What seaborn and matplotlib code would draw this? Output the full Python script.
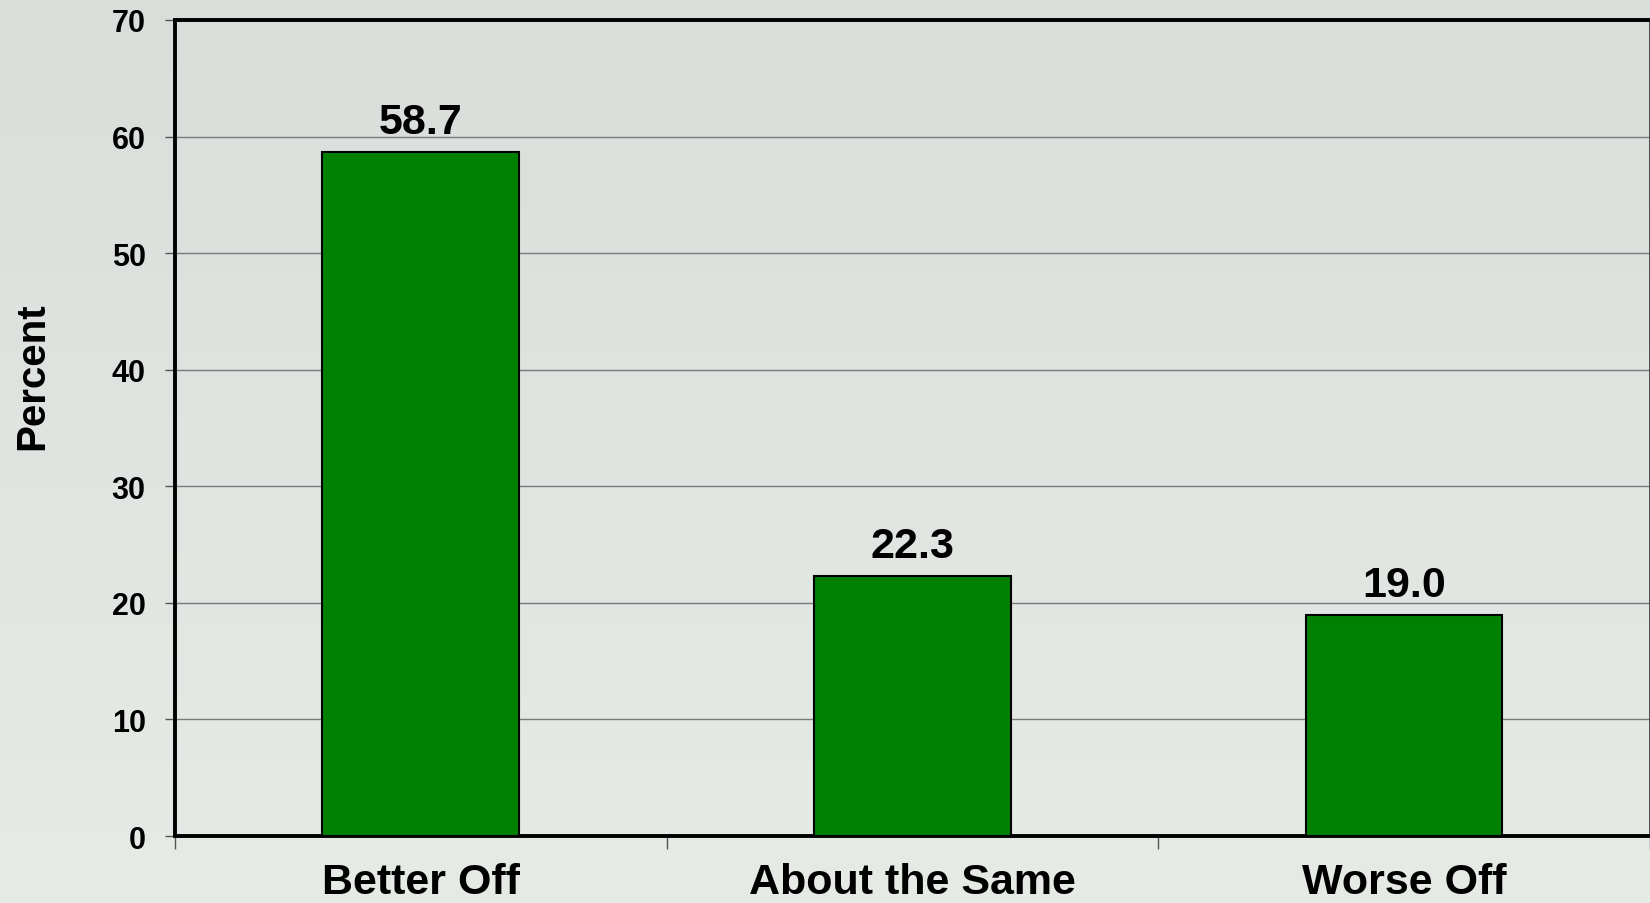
import numpy as np
import pandas as pd
import matplotlib
matplotlib.use('Agg')
import matplotlib.pyplot as plt
import seaborn as sns

sns.set_style('white')
plt.rcParams['font.family'] = ['Liberation Sans', 'DejaVu Sans']
plt.rcParams['text.color'] = 'black'
plt.rcParams['axes.labelcolor'] = 'black'

# ─── Data ────────────────────────────────────────────────────
categories = ['Better Off', 'About the Same', 'Worse Off']
percent = [58.7, 22.3, 19.0]
y_ticks = [0, 10, 20, 30, 40, 50, 60, 70]

df = pd.DataFrame({'category': categories, 'percent': percent})

# ─── Figure ──────────────────────────────────────────────────
fig = plt.figure(figsize=(16.5, 9.04), dpi=100)
fig.patch.set_facecolor('#dfe3df')

# soft vertical background gradient
bg = fig.add_axes([0, 0, 1, 1], zorder=-10)
grad = np.linspace(0, 1, 256).reshape(-1, 1)
bg.imshow(grad, aspect='auto', extent=[0, 1, 0, 1], origin='upper',
          cmap=matplotlib.colors.LinearSegmentedColormap.from_list(
              'bg', ['#d9dedb', '#e6ebe6']))
bg.axis('off')

ax = fig.add_axes([0.106, 0.0741, 0.894, 0.9027])
ax.set_facecolor('none')

sns.barplot(data=df, x='category', y='percent', color='#008000', saturation=1,
            width=0.4, edgecolor='black', linewidth=1.5, ax=ax, zorder=3)

ax.set_xlim(-0.5, 2.5)
ax.set_ylim(0, 70)
ax.set_yticks(y_ticks)
ax.set_yticklabels([str(t) for t in y_ticks], fontsize=22, fontweight='bold')
ax.yaxis.grid(True, color='#7a7a7a', linewidth=1.0, zorder=0)
ax.set_axisbelow(True)

# category labels at centres, tick marks at boundaries
ax.set_xticks(range(len(categories)))
ax.set_xticklabels(categories, fontsize=31, fontweight='bold')
ax.set_xticks([-0.5, 0.5, 1.5, 2.5], minor=True)
ax.tick_params(axis='x', which='major', length=0, pad=19, labelcolor='black')
ax.tick_params(axis='x', which='minor', length=9, width=1, color='#555555',
               direction='out', bottom=True)
ax.tick_params(axis='y', which='major', length=7, width=1, color='#555555',
               direction='out', left=True, pad=14, labelcolor='black')

for side in ['left', 'top', 'bottom']:
    ax.spines[side].set_linewidth(2.8)
    ax.spines[side].set_color('black')
ax.spines['right'].set_linewidth(1.2)
ax.spines['right'].set_color('#333333')

ax.set_xlabel('')
ax.set_ylabel('Percent', fontsize=29, fontweight='bold', va='center', color='black')
ax.yaxis.set_label_coords(-0.097, 0.565)

ax.bar_label(ax.containers[0], fmt='%.1f', padding=7,
             fontsize=31, fontweight='bold', color='black')

fig.savefig('out.png', dpi=100, facecolor=fig.get_facecolor())
